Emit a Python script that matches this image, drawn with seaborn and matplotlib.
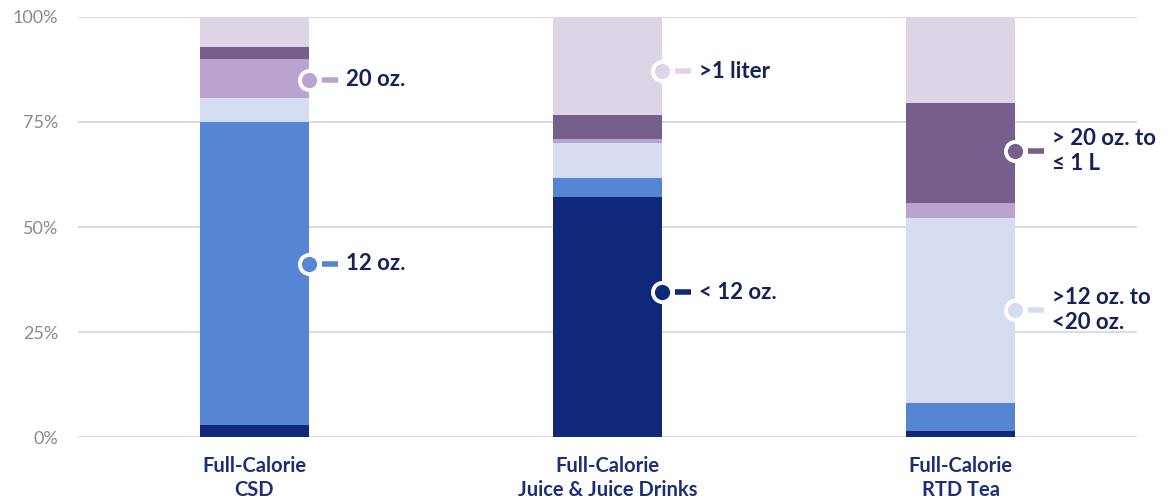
import matplotlib
matplotlib.use("Agg")
import matplotlib.pyplot as plt
import matplotlib.transforms as mtransforms
import pandas as pd
import seaborn as sns

categories = ['Full-Calorie\nCSD', 'Full-Calorie\nJuice & Juice Drinks', 'Full-Calorie\nRTD Tea']
segments = ['< 12 oz.', '12 oz.', '>12 oz. to\n<20 oz.', '20 oz.', '> 20 oz. to\n≤ 1 L', '>1 liter']
under_12 = [2.9, 57.1, 1.4]
oz_12 = [72.2, 4.6, 6.6]
oz_12_20 = [5.7, 8.2, 44.1]
oz_20 = [9.3, 1.1, 3.5]
oz_20_1l = [2.8, 5.7, 24.0]
over_1l = [7.1, 23.3, 20.4]
seg_colors = ['#0f287a', '#5585d3', '#d7ddf0', '#b9a4d0', '#765f8c', '#ddd4e6']

# callouts: segment index, bar index, value on the axis
callout_seg = [3, 1, 5, 0, 4, 2]
callout_bar = [0, 0, 1, 1, 2, 2]
callout_val = [85.0, 41.2, 87.1, 34.5, 68.1, 30.2]

values = [under_12, oz_12, oz_12_20, oz_20, oz_20_1l, over_1l]
df = pd.DataFrame({'Category': categories})
for name, vals in zip(segments, values):
    df[name] = vals
cum = df[segments].cumsum(axis=1)

sns.set_style('white')
plt.rcParams['font.family'] = ['Lato', 'DejaVu Sans']

fig = plt.figure(figsize=(11.74, 5.04), dpi=100)
ax = fig.add_axes([0.0664, 0.1329, 0.9021, 0.8334])

bar_w = 0.311
# draw cumulative totals from the top segment down so each one covers the rest
for name, col in reversed(list(zip(segments, seg_colors))):
    sns.barplot(x=df['Category'], y=cum[name], color=col, width=bar_w,
                saturation=1, ax=ax, zorder=2, linewidth=0)

ax.set_xlim(-0.5, 2.5)
ax.set_ylim(0, 100)
ax.set_yticks([0, 25, 50, 75, 100])
ax.set_yticklabels(['0%', '25%', '50%', '75%', '100%'], color='#8a8a8a', fontsize=13)
ax.tick_params(axis='y', length=0, pad=14)
ax.tick_params(axis='x', length=0, pad=14)
ax.set_xticks(range(len(categories)))
ax.set_xticklabels(categories, fontsize=14.5, fontweight='bold', color='#1b2e7a',
                   linespacing=1.25)
ax.set_xlabel('')
ax.set_ylabel('')
for s in ax.spines.values():
    s.set_visible(False)
ax.yaxis.grid(True, color='#dcdcdc', linewidth=1.5, zorder=0)
ax.set_axisbelow(True)

def shifted(px):
    return ax.transData + mtransforms.ScaledTranslation(px / 100, 0, fig.dpi_scale_trans)

for si, bi, yv in zip(callout_seg, callout_bar, callout_val):
    col = seg_colors[si]
    xe = bi + bar_w / 2
    ax.scatter([xe], [yv], s=190, color=col, edgecolor='white', linewidth=2.8,
               zorder=5, clip_on=False)
    # short dash after the circle
    ax.plot([xe, xe + 16 / 353.5], [yv, yv], transform=shifted(13), color=col,
            linewidth=4, solid_capstyle='butt', zorder=4, clip_on=False)
    ax.text(xe, yv, segments[si], transform=shifted(37), ha='left', va='center',
            fontsize=16, fontweight='bold', color='#142259', linespacing=1.2)

fig.savefig('out.png', dpi=100)
